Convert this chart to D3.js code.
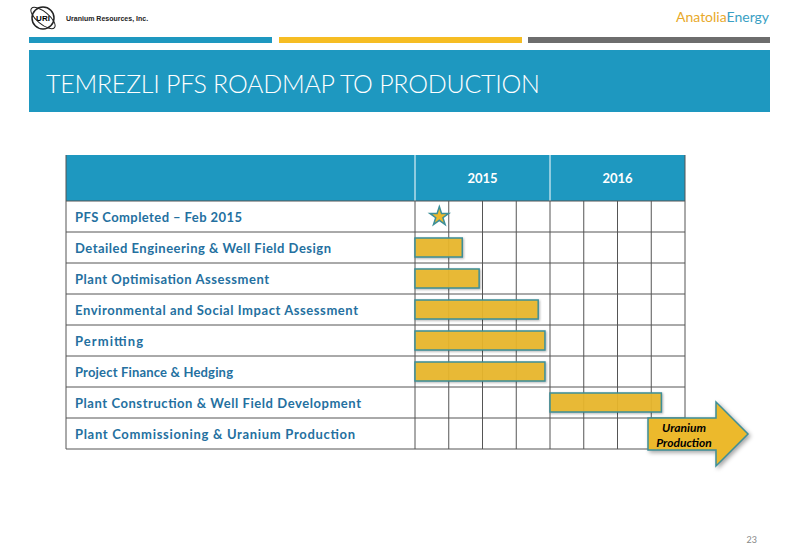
<!DOCTYPE html><html><head><meta charset="utf-8"><script src="https://cdn.jsdelivr.net/npm/d3@7"></script>
<style>body{margin:0;background:#fff}</style></head><body><svg width="800" height="554"></svg>
<script>
const years=["2015","2016"];
const quarters=[0,1,2,3,4,5,6,7];
const tasks=["PFS Completed – Feb 2015","Detailed Engineering & Well Field Design","Plant Optimisation Assessment","Environmental and Social Impact Assessment","Permitting","Project Finance & Hedging","Plant Construction & Well Field Development","Plant Commissioning & Uranium Production"];
const starts=[null,0,0,0,0,0,4,null];
const ends=[null,1.4,1.9,3.65,3.85,3.85,7.3,null];
const milestone=[0.25];
const svg=d3.select("svg");
const blue="#1e98c0",gold="#ecb92c";
svg.append("rect").attr("x",29).attr("y",37).attr("width",243).attr("height",6).attr("fill",blue);
svg.append("rect").attr("x",279).attr("y",37).attr("width",243).attr("height",6).attr("fill","#f6bd23");
svg.append("rect").attr("x",528).attr("y",37).attr("width",242).attr("height",6).attr("fill","#6d6d6d");
svg.append("rect").attr("x",29).attr("y",50).attr("width",741).attr("height",62).attr("fill",blue);
svg.append("text").attr("x",46).attr("y",93).attr("fill","#fff").attr("font-family","Lato, sans-serif").attr("font-weight",300).attr("font-size",25).attr("textLength",494).text("TEMREZLI PFS ROADMAP TO PRODUCTION");
const lg=svg.append("g");
lg.append("circle").attr("cx",43).attr("cy",18).attr("r",11).attr("fill","none").attr("stroke","#222").attr("stroke-width",1.5);
lg.append("ellipse").attr("cx",43).attr("cy",18).attr("rx",15).attr("ry",6).attr("fill","none").attr("stroke","#222").attr("transform","rotate(40 43 18)");
lg.append("text").attr("x",43).attr("y",21).attr("text-anchor","middle").attr("font-family","Arial").attr("font-size",8).attr("font-weight","bold").text("URI");
lg.append("text").attr("x",66).attr("y",21).attr("font-family","Arial").attr("font-size",7).attr("font-weight","bold").attr("fill","#222").text("Uranium Resources, Inc.");
lg.append("text").attr("x",676).attr("y",22).attr("font-family","Lato, sans-serif").attr("font-size",14).attr("fill","#e8a92a").text("Anatolia").append("tspan").attr("fill","#3a9fc4").text("Energy");
svg.append("text").attr("x",757).attr("y",543).attr("text-anchor","end").attr("font-family","Lato, sans-serif").attr("font-size",9).attr("fill","#888").text("23");
const x=d3.scaleLinear().domain([0,8]).range([415,685]);
const y=d3.scaleBand().domain(d3.range(tasks.length)).range([201,449]);
const L=66;
svg.append("rect").attr("x",L).attr("y",155).attr("width",685-L).attr("height",46).attr("fill",blue);
svg.append("line").attr("x1",415).attr("x2",415).attr("y1",155).attr("y2",201).attr("stroke","#fff");
svg.append("line").attr("x1",x(4)).attr("x2",x(4)).attr("y1",155).attr("y2",201).attr("stroke","#fff");
years.forEach((yr,i)=>svg.append("text").attr("x",x(i*4+2)).attr("y",183).attr("text-anchor","middle").attr("fill","#fff").attr("font-family","Lato, sans-serif").attr("font-weight","bold").attr("font-size",13).text(yr));
const g=svg.append("g");
const labW=[167,256,194,283,68,158,286,280];
tasks.forEach((t,i)=>{
 g.append("text").attr("x",75).attr("y",y(i)+y.bandwidth()/2+5).attr("fill","#2470a0").attr("font-family","Lato, sans-serif").attr("font-weight","bold").attr("font-size",13).attr("textLength",labW[i]).text(t);
});
d3.range(tasks.length+1).forEach(i=>{const yy=i<tasks.length?y(i):449;g.append("line").attr("x1",L).attr("x2",685).attr("y1",yy).attr("y2",yy).attr("stroke","#555");});
g.append("line").attr("x1",L).attr("x2",L).attr("y1",155).attr("y2",449).attr("stroke","#555");
quarters.concat([8]).forEach(q=>g.append("line").attr("x1",x(q)).attr("x2",x(q)).attr("y1",201).attr("y2",449).attr("stroke","#555"));
g.append("line").attr("x1",685).attr("x2",685).attr("y1",155).attr("y2",201).attr("stroke","#555");
tasks.forEach((t,i)=>{if(starts[i]===null)return;
 g.append("rect").attr("x",x(starts[i])).attr("y",y(i)+6).attr("width",x(ends[i])-x(starts[i])).attr("height",y.bandwidth()-12).attr("fill",gold).attr("fill-opacity",0.93).attr("stroke","#3d8f98").attr("stroke-width",1.5).style("filter","drop-shadow(1px 1px 1px rgba(0,0,0,0.3))");});
const sx=x(milestone[0]+0.5)-1,sy=y(0)+y.bandwidth()/2;
g.append("path").attr("d",d3.symbol(d3.symbolStar,110)()).attr("transform",`translate(${sx},${sy})`).attr("fill",gold).attr("stroke","#3d8f98").attr("stroke-width",1.5);
const ar=[[648,418],[716,418],[716,402],[748,434],[716,466],[716,450],[648,450]];
svg.append("path").attr("d","M"+ar.join("L")+"Z").attr("fill",gold).attr("stroke","#3d8f98").attr("stroke-width",1.5).style("filter","drop-shadow(2px 2px 2px rgba(0,0,0,0.35))");
svg.append("text").attr("x",684).attr("y",432).attr("text-anchor","middle").attr("font-family","Lato, sans-serif").attr("font-style","italic").attr("font-weight","bold").attr("font-size",12).text("Uranium");
svg.append("text").attr("x",684).attr("y",447).attr("text-anchor","middle").attr("font-family","Lato, sans-serif").attr("font-style","italic").attr("font-weight","bold").attr("font-size",12).text("Production");
</script></body></html>
